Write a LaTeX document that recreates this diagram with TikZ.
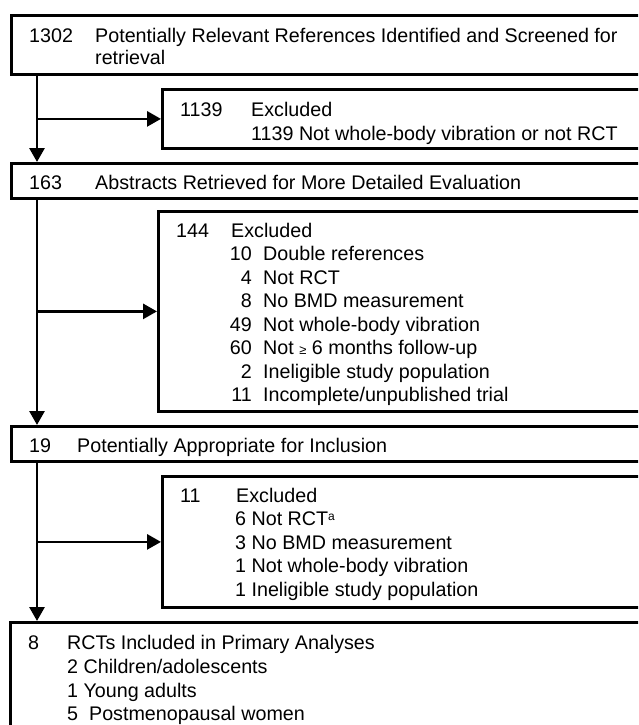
\documentclass[tikz,border=0pt]{standalone}
\usepackage{fontspec}
\setmainfont{Liberation Sans}
\usetikzlibrary{arrows.meta}
\begin{document}
\begin{tikzpicture}[x=1pt,y=1pt,
  box/.style={draw=black,line width=2.8pt,rectangle,inner sep=0pt,anchor=north west},
  txt/.style={inner sep=0pt,anchor=base west,font=\fontsize{19.7}{23.5}\selectfont},
  num/.style={inner sep=0pt,anchor=base east,font=\fontsize{19.7}{23.5}\selectfont},
  arr/.style={line width=2.8pt,-{Triangle[width=15pt,length=14pt]}}]
\useasboundingbox (0,0) rectangle (638,-725);
\clip (0,0) rectangle (638,-725);
\fill[white] (0,0) rectangle (638,-725);
% boxes
\node[box,minimum width=700pt,minimum height=59pt] (b1) at (10,-14) {};
\node[box,minimum width=540pt,minimum height=59pt] (b2) at (161,-88) {};
\node[box,minimum width=700pt,minimum height=35pt] (b3) at (10,-162) {};
\node[box,minimum width=540pt,minimum height=200pt] (b4) at (157,-210) {};
\node[box,minimum width=700pt,minimum height=35pt] (b5) at (10,-425) {};
\node[box,minimum width=540pt,minimum height=131pt] (b6) at (161,-475) {};
\node[box,minimum width=700pt,minimum height=200pt] (b7) at (9,-621) {};
\coordinate (spine) at (37,0);
% connectors
\draw[arr] (spine |- b1.south) -- (spine |- b3.north);
\draw[arr] (spine |- b3.south) -- (spine |- b5.north);
\draw[arr] (spine |- b5.south) -- (spine |- b7.north);
\draw[arr] (spine |- b2.west) -- (b2.west);
\draw[arr] (spine |- b4.west) -- (b4.west);
\draw[arr] (spine |- b6.west) -- (b6.west);
% box 1
\node[txt] (t1n) at (29,-43) {1302};
\node[txt] (t1a) at (95,-43) {Potentially Relevant References Identified and Screened for};
\node[txt] (t1b) at (95,-65) {retrieval};
% box 2
\node[txt] (t2n) at (180,-116) {1139};
\node[txt] (t2a) at (251,-116) {Excluded};
\node[txt] (t2b) at (251,-140) {1139 Not whole-body vibration or not RCT};
% box 3
\node[txt] (t3n) at (29,-189) {163};
\node[txt] (t3a) at (95,-189) {Abstracts Retrieved for More Detailed Evaluation};
% box 4
\node[txt] (t4n) at (176,-237) {144};
\node[txt] (t4a) at (231,-237) {Excluded};
\node[num] (n41) at (252,-260.5) {10};
\node[txt] (l41) at (263,-260.5) {Double references};
\node[num] (n42) at (252,-284) {4};
\node[txt] (l42) at (263,-284) {Not RCT};
\node[num] (n43) at (252,-307.5) {8};
\node[txt] (l43) at (263,-307.5) {No BMD measurement};
\node[num] (n44) at (252,-331) {49};
\node[txt] (l44) at (263,-331) {Not whole-body vibration};
\node[num] (n45) at (252,-354.5) {60};
\node[txt] (l45) at (263,-354.5) {Not {\fontsize{13}{13}\selectfont≥} 6 months follow-up};
\node[num] (n46) at (252,-378) {2};
\node[txt] (l46) at (263,-378) {Ineligible study population};
\node[num] (n47) at (252,-401.5) {11};
\node[txt] (l47) at (263,-401.5) {Incomplete/unpublished trial};
% box 5
\node[txt] (t5n) at (29,-452) {19};
\node[txt] (t5a) at (77,-452) {Potentially Appropriate for Inclusion};
% box 6
\node[txt] (t6n) at (180,-502) {11};
\node[txt] (t6a) at (236,-502) {Excluded};
\node[txt] (l61) at (235,-525.5) {6 Not RCT\raisebox{5.5pt}{\fontsize{12}{12}\selectfont a}};
\node[txt] (l62) at (235,-549) {3 No BMD measurement};
\node[txt] (l63) at (235,-572.5) {1 Not whole-body vibration};
\node[txt] (l64) at (235,-596) {1 Ineligible study population};
% box 7
\node[txt] (t7n) at (28,-649) {8};
\node[txt] (t7a) at (67,-649) {RCTs Included in Primary Analyses};
\node[txt] (l71) at (67,-673) {2 Children/adolescents};
\node[txt] (l72) at (67,-697) {1 Young adults};
\node[txt] (l73) at (67,-720) {5\hspace{11pt}Postmenopausal women};
\end{tikzpicture}
\end{document}
